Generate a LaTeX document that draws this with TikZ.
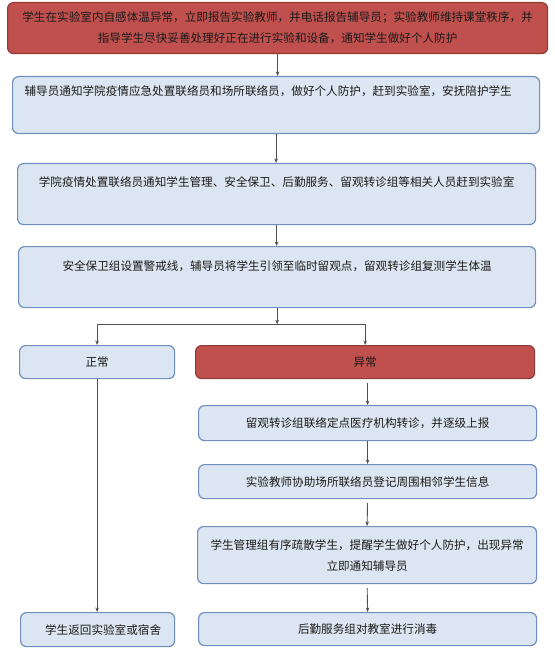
\documentclass[tikz,border=0pt]{standalone}
\usepackage{fontspec}
\setmainfont{Noto Sans CJK SC}
\usetikzlibrary{arrows.meta,calc}
\definecolor{redfill}{HTML}{C0504D}
\definecolor{redline}{HTML}{8C3B39}
\definecolor{boxfill}{HTML}{DCE6F2}
\definecolor{boxline}{HTML}{6F8FBF}
\definecolor{arrowcol}{HTML}{505050}
\definecolor{txt}{HTML}{1A1A1A}
\tikzset{
  box/.style={draw=boxline, fill=boxfill, rounded corners=6pt, line width=1.2pt,
    inner sep=0pt, anchor=north west, text=txt, align=center,
    font=\fontsize{11.6pt}{21pt}\selectfont},
  redbox/.style={box, draw=redline, fill=redfill},
  arr/.style={draw=arrowcol, line width=0.9pt, -{Stealth[length=4.5pt,width=3.6pt]}},
}
\begin{document}
\begin{tikzpicture}[x=1pt,y=-1pt]
\useasboundingbox (0,0) rectangle (554,652);
% main column
\node[redbox, minimum width=540pt, minimum height=51pt] (b1) at (7,2)
  {学生在实验室内自感体温异常，立即报告实验教师，并电话报告辅导员；实验教师维持课堂秩序，并\\指导学生尽快妥善处理好正在进行实验和设备，通知学生做好个人防护};
\node[box, text width=503pt, inner xsep=12pt, align=left, text height=19.4pt, text depth=37.6pt] (b2) at (12,76)
  {辅导员通知学院疫情应急处置联络员和场所联络员，做好个人防护，赶到实验室，安抚陪护学生};
\node[box, minimum width=518pt, text height=23.4pt, text depth=37.6pt] (b3) at (17,163)
  {学院疫情处置联络员通知学生管理、安全保卫、后勤服务、留观转诊组等相关人员赶到实验室};
\node[box, minimum width=517pt, text height=23.4pt, text depth=37.6pt] (b4) at (18,246)
  {安全保卫组设置警戒线，辅导员将学生引领至临时留观点，留观转诊组复测学生体温};
% left branch
\node[box, minimum width=155pt, minimum height=33pt] (n1) at (19,345) {正常};
\node[box, minimum width=154pt, minimum height=34pt] (n2) at (20,612) {\hspace*{11pt}学生返回实验室或宿舍};
% right branch
\node[redbox, minimum width=339pt, minimum height=33pt] (ab) at (195,345) {异常};
\node[box, minimum width=338pt, minimum height=35pt] (c1) at (198,405) {留观转诊组联络定点医疗机构转诊，并逐级上报};
\node[box, minimum width=338pt, minimum height=34pt] (c2) at (198,464) {实验教师协助场所联络员登记周围相邻学生信息};
\node[box, minimum width=339pt, minimum height=57pt] (c3) at (197,526) {学生管理组有序疏散学生，提醒学生做好个人防护，出现异常\\立即通知辅导员};
\node[box, minimum width=338pt, minimum height=33pt] (c4) at (198,612) {后勤服务组对教室进行消毒};
% connectors
\draw[arr] (b1.south) -- (b1.south |- b2.north);
\draw[arr] (b2.south) -- (b2.south |- b3.north);
\draw[arr] (b3.south) -- (b3.south |- b4.north);
\coordinate (j) at ($(b4.south)+(0,16)$);
\draw[arr] (b4.south) -- (j);
\draw[arr] (j) -| (n1.north);
\draw[arr] (j) -| (ab.north);
\draw[arr] (n1.south) -- (n1.south |- n2.north);
\draw[arr, shorten <=4pt] (ab.south -| c1.north) -- (c1.north);
\draw[arr] (c1.south) -- (c2.north);
\draw[arr, shorten <=4pt] (c2.south) -- (c3.north);
\draw[arr, shorten <=4pt] (c3.south) -- (c4.north);
\end{tikzpicture}
\end{document}
